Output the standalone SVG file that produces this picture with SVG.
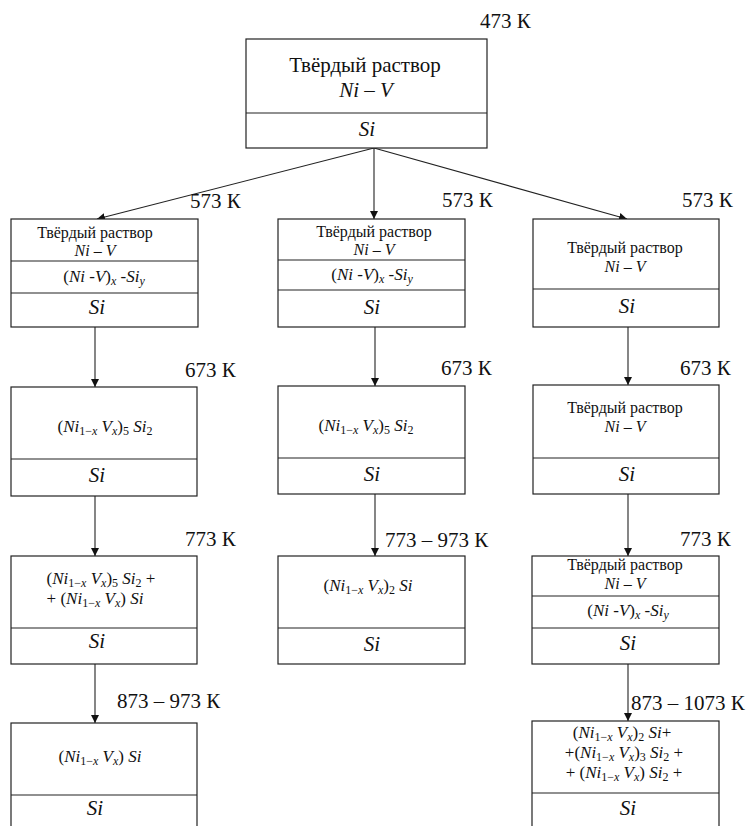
<svg xmlns="http://www.w3.org/2000/svg" width="752" height="826" viewBox="0 0 752 826" font-family="'Liberation Serif', 'DejaVu Serif', serif">
<style>
text{font-family:'Liberation Serif','Times New Roman','DejaVu Serif',serif;fill:#111}
.box{fill:#fff;stroke:#222;stroke-width:1.2}
.div{stroke:#222;stroke-width:1.2}
.temp{font-size:21px}
.big{font-size:21px;text-anchor:middle}
.lbl{font-size:16px;text-anchor:middle}
.m{font-size:17px;text-anchor:middle}
.si{font-size:21px;text-anchor:middle;font-style:italic}
.i{font-style:italic}
.s{font-size:12px;baseline-shift:-3px}
.conn line{stroke:#222;stroke-width:1.1;marker-end:url(#ah)}
</style>
<defs>
<marker id="ah" viewBox="0 0 10 10" refX="10" refY="5" markerWidth="8" markerHeight="8" markerUnits="userSpaceOnUse" orient="auto">
<path d="M0,0 L10,5 L0,10 z" fill="#111"/>
</marker>
</defs>

<g class="conn">
<line x1="374" y1="148" x2="97" y2="219"/>
<line x1="374" y1="148" x2="374" y2="219"/>
<line x1="374" y1="148" x2="627" y2="219"/>
<line x1="95" y1="327" x2="95" y2="387"/>
<line x1="95" y1="496" x2="95" y2="556"/>
<line x1="95" y1="664" x2="95" y2="723"/>
<line x1="375" y1="327" x2="375" y2="386"/>
<line x1="375" y1="494" x2="375" y2="556"/>
<line x1="628" y1="327" x2="628" y2="385"/>
<line x1="628" y1="494" x2="628" y2="556"/>
<line x1="628" y1="664" x2="628" y2="721"/>
</g>

<g id="temps">
<text class="temp" x="480" y="28">473 К</text>
<text class="temp" x="190" y="208">573 К</text>
<text class="temp" x="442" y="207">573 К</text>
<text class="temp" x="682" y="207">573 К</text>
<text class="temp" x="185" y="377">673 К</text>
<text class="temp" x="441" y="375">673 К</text>
<text class="temp" x="680" y="375">673 К</text>
<text class="temp" x="185" y="546">773 К</text>
<text class="temp" x="385" y="547">773 – 973 К</text>
<text class="temp" x="680" y="546">773 К</text>
<text class="temp" x="117" y="708">873 – 973 К</text>
<text class="temp" x="631" y="710">873 – 1073 К</text>
</g>

<g id="n0">
<rect class="box" x="246" y="39" width="241" height="109"/>
<line class="div" x1="246" y1="113" x2="487" y2="113"/>
<text class="big" x="365" y="72">Твёрдый раствор</text>
<text class="big i" x="366" y="97">Ni – V</text>
<text class="si" x="367" y="136">Si</text>
</g>

<g id="n1">
<rect class="box" x="11" y="219" width="187" height="108"/>
<line class="div" x1="11" y1="261" x2="198" y2="261"/>
<line class="div" x1="11" y1="293" x2="198" y2="293"/>
<text class="lbl" x="95" y="238">Твёрдый раствор</text>
<text class="lbl i" x="95" y="256">Ni – V</text>
<text class="m" x="104" y="282">(<tspan class="i">Ni</tspan> -<tspan class="i">V</tspan>)<tspan class="s i">x</tspan> -<tspan class="i">Si</tspan><tspan class="s i">y</tspan></text>
<text class="si" x="97" y="314">Si</text>
</g>

<g id="n2">
<rect class="box" x="278" y="219" width="187" height="108"/>
<line class="div" x1="278" y1="260" x2="465" y2="260"/>
<line class="div" x1="278" y1="290" x2="465" y2="290"/>
<text class="lbl" x="374" y="237">Твёрдый раствор</text>
<text class="lbl i" x="374" y="255">Ni – V</text>
<text class="m" x="372" y="280">(<tspan class="i">Ni</tspan> -<tspan class="i">V</tspan>)<tspan class="s i">x</tspan> -<tspan class="i">Si</tspan><tspan class="s i">y</tspan></text>
<text class="si" x="372" y="314">Si</text>
</g>

<g id="n3">
<rect class="box" x="533" y="219" width="186" height="108"/>
<line class="div" x1="533" y1="289" x2="719" y2="289"/>
<text class="lbl" x="625" y="253">Твёрдый раствор</text>
<text class="lbl i" x="625" y="272">Ni – V</text>
<text class="si" x="627" y="313">Si</text>
</g>

<g id="n4">
<rect class="box" x="11" y="387" width="186" height="109"/>
<line class="div" x1="11" y1="459" x2="197" y2="459"/>
<text class="m" x="105" y="432">(<tspan class="i">Ni</tspan><tspan class="s">1−<tspan class="i">x</tspan></tspan> <tspan class="i">V</tspan><tspan class="s i">x</tspan>)<tspan class="s">5</tspan> <tspan class="i">Si</tspan><tspan class="s">2</tspan></text>
<text class="si" x="97" y="482">Si</text>
</g>

<g id="n5">
<rect class="box" x="278" y="386" width="187" height="108"/>
<line class="div" x1="278" y1="458" x2="465" y2="458"/>
<text class="m" x="366" y="431">(<tspan class="i">Ni</tspan><tspan class="s">1−<tspan class="i">x</tspan></tspan> <tspan class="i">V</tspan><tspan class="s i">x</tspan>)<tspan class="s">5</tspan> <tspan class="i">Si</tspan><tspan class="s">2</tspan></text>
<text class="si" x="372" y="481">Si</text>
</g>

<g id="n6">
<rect class="box" x="533" y="385" width="186" height="109"/>
<line class="div" x1="533" y1="458" x2="719" y2="458"/>
<text class="lbl" x="625" y="413">Твёрдый раствор</text>
<text class="lbl i" x="625" y="432">Ni – V</text>
<text class="si" x="627" y="481">Si</text>
</g>

<g id="n7">
<rect class="box" x="11" y="556" width="186" height="108"/>
<line class="div" x1="11" y1="628" x2="197" y2="628"/>
<text class="m" x="101" y="584">(<tspan class="i">Ni</tspan><tspan class="s">1−<tspan class="i">x</tspan></tspan> <tspan class="i">V</tspan><tspan class="s i">x</tspan>)<tspan class="s">5</tspan> <tspan class="i">Si</tspan><tspan class="s">2</tspan> +</text>
<text class="m" x="95" y="604">+ (<tspan class="i">Ni</tspan><tspan class="s">1−<tspan class="i">x</tspan></tspan> <tspan class="i">V</tspan><tspan class="s i">x</tspan>) <tspan class="i">Si</tspan></text>
<text class="si" x="97" y="648">Si</text>
</g>

<g id="n8">
<rect class="box" x="278" y="556" width="187" height="108"/>
<line class="div" x1="278" y1="628" x2="465" y2="628"/>
<text class="m" x="368" y="591">(<tspan class="i">Ni</tspan><tspan class="s">1−<tspan class="i">x</tspan></tspan> <tspan class="i">V</tspan><tspan class="s i">x</tspan>)<tspan class="s">2</tspan> <tspan class="i">Si</tspan></text>
<text class="si" x="372" y="651">Si</text>
</g>

<g id="n9">
<rect class="box" x="532" y="556" width="187" height="108"/>
<line class="div" x1="532" y1="596" x2="719" y2="596"/>
<line class="div" x1="532" y1="628" x2="719" y2="628"/>
<text class="lbl" x="625" y="570">Твёрдый раствор</text>
<text class="lbl i" x="625" y="589">Ni – V</text>
<text class="m" x="628" y="616">(<tspan class="i">Ni</tspan> -<tspan class="i">V</tspan>)<tspan class="s i">x</tspan> -<tspan class="i">Si</tspan><tspan class="s i">y</tspan></text>
<text class="si" x="628" y="650">Si</text>
</g>

<g id="n10">
<rect class="box" x="11" y="723" width="186" height="110"/>
<line class="div" x1="11" y1="795" x2="197" y2="795"/>
<text class="m" x="100" y="762">(<tspan class="i">Ni</tspan><tspan class="s">1−<tspan class="i">x</tspan></tspan> <tspan class="i">V</tspan><tspan class="s i">x</tspan>) <tspan class="i">Si</tspan></text>
<text class="si" x="95" y="815">Si</text>
</g>

<g id="n11">
<rect class="box" x="532" y="721" width="187" height="112"/>
<line class="div" x1="532" y1="793" x2="719" y2="793"/>
<text class="m" x="622" y="738">(<tspan class="i">Ni</tspan><tspan class="s">1−<tspan class="i">x</tspan></tspan> <tspan class="i">V</tspan><tspan class="s i">x</tspan>)<tspan class="s">2</tspan> <tspan class="i">Si</tspan>+</text>
<text class="m" x="624" y="758">+(<tspan class="i">Ni</tspan><tspan class="s">1−<tspan class="i">x</tspan></tspan> <tspan class="i">V</tspan><tspan class="s i">x</tspan>)<tspan class="s">3</tspan> <tspan class="i">Si</tspan><tspan class="s">2</tspan> +</text>
<text class="m" x="624" y="778">+ (<tspan class="i">Ni</tspan><tspan class="s">1−<tspan class="i">x</tspan></tspan> <tspan class="i">V</tspan><tspan class="s i">x</tspan>) <tspan class="i">Si</tspan><tspan class="s">2</tspan> +</text>
<text class="si" x="628" y="815">Si</text>
</g>
</svg>
